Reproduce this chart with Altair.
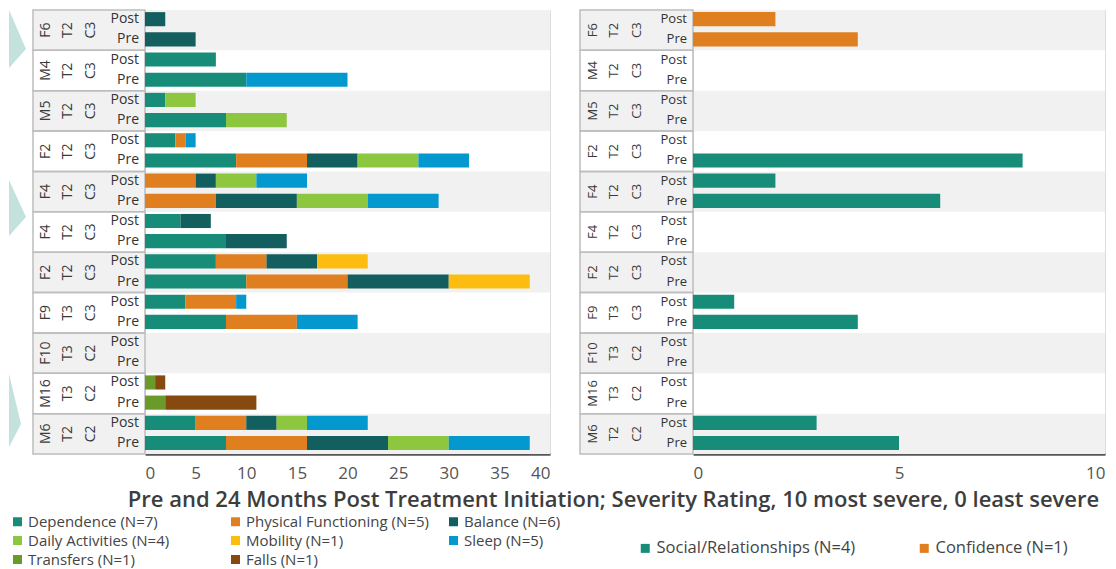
import altair as alt
import pandas as pd

# ---------------- data ----------------
group_ids = ["F6", "M4", "M5", "F2", "F4", "F4", "F2", "F9", "F10", "M16", "M6"]
group_t = ["T2", "T2", "T2", "T2", "T2", "T2", "T2", "T3", "T3", "T3", "T2"]
group_c = ["C3", "C3", "C3", "C3", "C3", "C3", "C3", "C3", "C2", "C2", "C2"]
periods = ["Post", "Pre"]

# stacking order (left to right within a bar)
left_categories = ["Dependence (N=7)", "Physical Functioning (N=5)", "Balance (N=6)",
                   "Daily Activities (N=4)", "Mobility (N=1)", "Sleep (N=5)",
                   "Transfers (N=1)", "Falls (N=1)"]
left_colors = ["#178c78", "#e07f1f", "#135e5e", "#8dc63f", "#fdbd10", "#0399cf",
               "#6a9a2a", "#864a10"]
# legend is filled column by column: this order gives the original's rows
left_legend_order = ["Dependence (N=7)", "Daily Activities (N=4)", "Transfers (N=1)",
                     "Physical Functioning (N=5)", "Mobility (N=1)", "Falls (N=1)",
                     "Balance (N=6)", "Sleep (N=5)"]

dependence_post = [0, 7, 2, 3, 0, 3.5, 7, 4, 0, 0, 5]
dependence_pre = [0, 10, 8, 9, 0, 8, 10, 8, 0, 0, 8]
physical_post = [0, 0, 0, 1, 5, 0, 5, 5, 0, 0, 5]
physical_pre = [0, 0, 0, 7, 7, 0, 10, 7, 0, 0, 8]
balance_post = [2, 0, 0, 0, 2, 3, 5, 0, 0, 0, 3]
balance_pre = [5, 0, 0, 5, 8, 6, 10, 0, 0, 0, 8]
daily_post = [0, 0, 3, 0, 4, 0, 0, 0, 0, 0, 3]
daily_pre = [0, 0, 6, 6, 7, 0, 0, 0, 0, 0, 6]
mobility_post = [0, 0, 0, 0, 0, 0, 5, 0, 0, 0, 0]
mobility_pre = [0, 0, 0, 0, 0, 0, 8, 0, 0, 0, 0]
sleep_post = [0, 0, 0, 1, 5, 0, 0, 1, 0, 0, 6]
sleep_pre = [0, 10, 0, 5, 7, 0, 0, 6, 0, 0, 8]
transfers_post = [0, 0, 0, 0, 0, 0, 0, 0, 0, 1, 0]
transfers_pre = [0, 0, 0, 0, 0, 0, 0, 0, 0, 2, 0]
falls_post = [0, 0, 0, 0, 0, 0, 0, 0, 0, 1, 0]
falls_pre = [0, 0, 0, 0, 0, 0, 0, 0, 0, 9, 0]

right_categories = ["Social/Relationships (N=4)", "Confidence (N=1)"]
right_colors = ["#178c78", "#e07f1f"]
social_post = [0, 0, 0, 0, 2, 0, 0, 1, 0, 0, 3]
social_pre = [0, 0, 0, 8, 6, 0, 0, 4, 0, 0, 5]
confidence_post = [2, 0, 0, 0, 0, 0, 0, 0, 0, 0, 0]
confidence_pre = [4, 0, 0, 0, 0, 0, 0, 0, 0, 0, 0]

left_ticks = [0, 5, 10, 15, 20, 25, 30, 35, 40]
right_ticks = [0, 5, 10]
axis_title = "Pre and 24 Months Post Treatment Initiation; Severity Rating, 10 most severe, 0 least severe"

# ---------------- tables ----------------
keys = [f"g{i}" for i in range(len(group_ids))]
groups_df = pd.DataFrame({"key": keys, "gid": group_ids, "t": group_t, "c": group_c,
                          "idx": list(range(len(keys)))})
period_df = pd.DataFrame([{"key": k, "period": p} for k in keys for p in periods])


def bars_table(categories, series):
    rows = []
    for ci, (cat, (post, pre)) in enumerate(zip(categories, series)):
        for gi, k in enumerate(keys):
            for p, arr in (("Post", post), ("Pre", pre)):
                if arr[gi] > 0:
                    rows.append({"key": k, "period": p, "category": cat,
                                 "value": arr[gi], "ord": ci})
    return pd.DataFrame(rows)


left_df = bars_table(left_categories, [
    (dependence_post, dependence_pre), (physical_post, physical_pre),
    (balance_post, balance_pre), (daily_post, daily_pre),
    (mobility_post, mobility_pre), (sleep_post, sleep_pre),
    (transfers_post, transfers_pre), (falls_post, falls_pre)])
right_df = bars_table(right_categories, [(social_post, social_pre),
                                         (confidence_post, confidence_pre)])

FONT = "Open Sans"
PLOT_H = 444

y_enc = alt.Y("key:N", scale=alt.Scale(domain=keys, paddingInner=0, paddingOuter=0), axis=None)
yoff_enc = alt.YOffset("period:N", scale=alt.Scale(domain=periods, paddingInner=0.3,
                                                   paddingOuter=0.15, align=0.35))


def panel(df, domain, colors, xmax, width, legend, axis, lab_x, lab_size, post_size):
    head_left = lab_x[0] - 13
    bands = alt.Chart(groups_df[groups_df["idx"] % 2 == 0]).mark_rect(color="#f1f1f1").encode(
        x=alt.value(head_left), x2=alt.value(width), y=y_enc)
    boxes = alt.Chart(groups_df).mark_rect(fillOpacity=0, stroke="#bdbdbd", strokeWidth=1.5).encode(
        x=alt.value(head_left), x2=alt.value(0), y=y_enc)
    bars = alt.Chart(df).mark_bar().encode(
        x=alt.X("value:Q", stack="zero", scale=alt.Scale(domain=[0, xmax], nice=False),
                axis=axis),
        y=y_enc, yOffset=yoff_enc,
        color=alt.Color("category:N", scale=alt.Scale(domain=domain, range=colors),
                        legend=legend),
        order=alt.Order("ord:Q"))
    texts = []
    for field, xv in zip(["gid", "t", "c"], lab_x):
        texts.append(alt.Chart(groups_df).mark_text(
            angle=270, fontSize=lab_size, font=FONT, color="#3a3a3a", align="center",
            baseline="middle").encode(x=alt.value(xv), y=y_enc, text=f"{field}:N"))
    plabels = alt.Chart(period_df).mark_text(
        align="right", baseline="middle", fontSize=post_size, font=FONT, color="#333").encode(
        x=alt.value(-6), y=y_enc, yOffset=yoff_enc, text="period:N")
    return alt.layer(bands, boxes, bars, *texts, plabels).properties(width=width, height=PLOT_H)


left_axis = alt.Axis(values=left_ticks, grid=False, ticks=False, domainColor="#555555",
                     domainWidth=2.5, labelFontSize=17, labelColor="#555555", labelFont=FONT,
                     labelPadding=11, title=axis_title, titleX=468, titleY=45,
                     titleAlign="center", titleBaseline="middle", titleFontSize=22,
                     titleFontWeight=600, titleColor="#3d3d3d", titleFont=FONT)
right_axis = alt.Axis(values=right_ticks, grid=False, ticks=False, domainColor="#555555",
                      domainWidth=2.5, labelFontSize=17, labelColor="#555555", labelFont=FONT,
                      labelPadding=11, title=None)

left_legend = alt.Legend(orient="none", legendX=-135, legendY=504, columns=3, gridAlign="all",
                         columnPadding=17, rowPadding=3, symbolType="square", symbolSize=81,
                         symbolStrokeWidth=0, labelFontSize=15, labelFont=FONT,
                         labelColor="#444444", labelLimit=400, labelOffset=3, title=None,
                         padding=0)
right_legend = alt.Legend(orient="none", legendX=-56, legendY=530, columns=2, gridAlign="all",
                          columnPadding=60, symbolType="square", symbolSize=81,
                          symbolStrokeWidth=0, labelFontSize=16.5, labelFont=FONT,
                          labelColor="#444444", labelLimit=400, labelOffset=3, title=None,
                          padding=0)

left_domain = left_legend_order
left_range = [left_colors[left_categories.index(c)] for c in left_domain]

left = panel(left_df, left_domain, left_range, 40, 405, left_legend,
             left_axis, [-99, -77, -54], 14, 14)
right = panel(right_df, right_categories, right_colors, 10, 412, right_legend,
              right_axis, [-100, -79, -56], 13, 13)

# decorative chevrons at the far left (partly cut off, as in the original)
one = pd.DataFrame({"d": [0]})
decor = []
for cx, cy, path, s in [(-107, 29, "M-1,-1L-0.414,0.345L-1,1Z", 3364),
                        (-108, 198, "M-1,-1L-0.393,0.321L-1,1Z", 3136),
                        (-99.5, 400.5, "M-1,-1L-0.671,0.37L-1,1Z", 5329)]:
    decor.append(alt.Chart(one).mark_point(filled=True, color="#c3e2dd", opacity=1,
                                           strokeWidth=0).encode(
        x=alt.value(cx), y=alt.value(cy), shape=alt.value(path), size=alt.value(s)))
left = alt.layer(*decor, left)

chart = alt.hconcat(left, right, spacing=143, bounds="flush").resolve_scale(
    color="independent").properties(
    padding={"left": 0, "top": 0, "right": 0, "bottom": 0}).configure_view(
    stroke="transparent").configure(font=FONT)

chart.save("out.html", embed_options={"renderer": "svg", "actions": False})
